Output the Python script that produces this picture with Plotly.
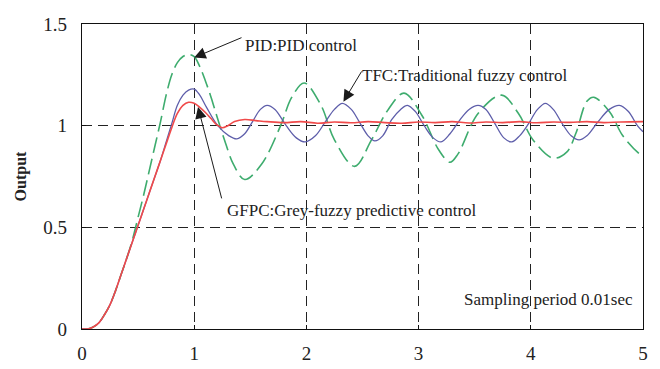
import plotly.graph_objects as go

# ---- data ----
gfpc_t = [0, 0.05, 0.1, 0.15, 0.2, 0.25, 0.3, 0.35, 0.4, 0.45, 0.5, 0.55, 0.6, 0.65, 0.7, 0.75,
          0.8, 0.85, 0.9, 0.95, 1.0, 1.05, 1.1, 1.15, 1.2, 1.25, 1.3, 1.36, 1.45, 1.55, 1.65,
          1.8, 1.95, 2.1, 2.25, 2.4, 2.55, 2.7, 2.85, 3.0, 3.15, 3.3, 3.45, 3.6, 3.75, 3.9,
          4.05, 4.2, 4.35, 4.5, 4.65, 4.8, 5.0]
gfpc_y = [0, 0.0, 0.01, 0.03, 0.07, 0.12, 0.19, 0.27, 0.35, 0.43, 0.51, 0.59, 0.67, 0.75, 0.83, 0.91,
          0.99, 1.06, 1.10, 1.115, 1.11, 1.09, 1.065, 1.035, 1.005, 0.99, 1.0, 1.02, 1.03, 1.025, 1.02,
          1.015, 1.02, 1.012, 1.018, 1.014, 1.02, 1.015, 1.012, 1.018, 1.015, 1.02, 1.013, 1.018, 1.015, 1.02,
          1.014, 1.018, 1.016, 1.02, 1.015, 1.018, 1.02]

tfc_t = [0, 0.05, 0.1, 0.15, 0.2, 0.25, 0.3, 0.35, 0.4, 0.45, 0.5, 0.55, 0.6, 0.65, 0.7, 0.75,
         0.8, 0.85, 0.9, 0.95, 1.0, 1.05, 1.11, 1.21, 1.31, 1.38, 1.45, 1.52, 1.59, 1.65, 1.72,
         1.82, 1.91, 1.99, 2.08, 2.17, 2.25, 2.32, 2.4, 2.47, 2.55, 2.61, 2.68, 2.76, 2.84, 2.9,
         2.97, 3.05, 3.13, 3.2, 3.28, 3.37, 3.45, 3.53, 3.6, 3.68, 3.76, 3.83, 3.9, 3.98, 4.06,
         4.13, 4.2, 4.28, 4.36, 4.43, 4.5, 4.6, 4.7, 4.79, 4.87, 4.95, 5.0]
tfc_y = [0, 0.0, 0.01, 0.03, 0.07, 0.12, 0.19, 0.27, 0.35, 0.43, 0.51, 0.59, 0.67, 0.75, 0.83, 0.92,
         1.01, 1.10, 1.15, 1.175, 1.18, 1.15, 1.09, 1.0, 0.95, 0.935, 0.96, 1.02, 1.08, 1.10, 1.08,
         1.0, 0.94, 0.92, 0.95, 1.02, 1.08, 1.11, 1.08, 1.02, 0.95, 0.925, 0.95, 1.03, 1.08, 1.10,
         1.07, 1.0, 0.94, 0.92, 0.96, 1.03, 1.08, 1.10, 1.08, 1.01, 0.94, 0.92, 0.95, 1.01, 1.08,
         1.11, 1.08, 1.01, 0.95, 0.93, 0.95, 1.02, 1.08, 1.10, 1.07, 1.0, 0.97]

pid_t = [0, 0.05, 0.1, 0.15, 0.2, 0.25, 0.3, 0.35, 0.4, 0.45, 0.5, 0.55, 0.6, 0.65, 0.7, 0.75,
         0.8, 0.85, 0.9, 0.95, 1.0, 1.05, 1.1, 1.15, 1.2, 1.27, 1.35, 1.45, 1.6, 1.77, 1.87,
         1.98, 2.13, 2.25, 2.43, 2.58, 2.73, 2.87, 3.03, 3.18, 3.28, 3.35, 3.53, 3.74, 3.89,
         4.02, 4.2, 4.32, 4.4, 4.5, 4.56, 4.7, 4.82, 4.97, 5.0]
pid_y = [0, 0.0, 0.01, 0.03, 0.07, 0.12, 0.19, 0.27, 0.35, 0.44, 0.55, 0.66, 0.78, 0.9, 1.02, 1.15,
         1.25, 1.31, 1.34, 1.35, 1.34, 1.29, 1.22, 1.14, 1.05, 0.93, 0.81, 0.735, 0.81, 1.0, 1.14,
         1.21, 1.1, 0.93, 0.80, 0.93, 1.08, 1.16, 1.05, 0.88, 0.82, 0.86, 1.06, 1.15, 1.06,
         0.93, 0.84, 0.87, 0.96, 1.12, 1.14, 1.07, 0.95, 0.86, 0.85]

x_ticks = [0, 1, 2, 3, 4, 5]
y_ticks = [0, 0.5, 1, 1.5]
y_tick_text = ["0", "0.5", "1", "1.5"]

FONT = "Liberation Serif"

fig = go.Figure()
fig.add_trace(go.Scatter(x=pid_t, y=pid_y, mode="lines", name="PID",
                         line=dict(color="#3eac6e", width=1.6, dash="16px,6px", shape="spline")))
fig.add_trace(go.Scatter(x=tfc_t, y=tfc_y, mode="lines", name="TFC",
                         line=dict(color="#5e5eaa", width=1.3, shape="spline")))
fig.add_trace(go.Scatter(x=gfpc_t, y=gfpc_y, mode="lines", name="GFPC",
                         line=dict(color="#f04a4a", width=1.6, shape="spline")))

arrows = [
    dict(x=1.0, y=1.335, ax=1.435, ay=1.436),
    dict(x=2.33, y=1.118, ax=2.50, ay=1.274),
    dict(x=1.034, y=1.092, ax=1.248, ay=0.635),
]
for a in arrows:
    fig.add_annotation(x=a["x"], y=a["y"], ax=a["ax"], ay=a["ay"], xref="x", yref="y",
                       axref="x", ayref="y", text="", showarrow=True, arrowhead=2,
                       arrowsize=2.3, arrowwidth=1, arrowcolor="#1a1a1a")

labels = [
    dict(text="PID:PID control", x=1.435, y=1.392, xanchor="left"),
    dict(text="TFC:Traditional fuzzy control", x=2.48, y=1.249, xanchor="left"),
    dict(text="GFPC:Grey-fuzzy predictive control", x=1.274, y=0.585, xanchor="left"),
    dict(text="Sampling period 0.01sec", x=4.93, y=0.143, xanchor="right"),
]
for l in labels:
    fig.add_annotation(x=l["x"], y=l["y"], xref="x", yref="y", text=l["text"],
                       xanchor=l["xanchor"], yanchor="middle", showarrow=False,
                       font=dict(family=FONT, size=17, color="#222"))

# the page body has an 8px default margin, so the figure is shrunk by 8px
fig.update_layout(
    width=652, height=361,
    margin=dict(l=74, r=17, t=16, b=40, autoexpand=False),
    paper_bgcolor="white", plot_bgcolor="white",
    showlegend=False,
    font=dict(family=FONT, size=17, color="#222"),
)
fig.update_xaxes(range=[0, 5], tickvals=x_ticks, ticktext=[str(v) for v in x_ticks],
                 showline=True, linecolor="#111", linewidth=1.2, mirror=True,
                 ticks="inside", ticklen=4, tickcolor="#111",
                 showgrid=True, gridcolor="#222", gridwidth=1, griddash="10px,6px",
                 zeroline=False, ticklabelstandoff=7,
                 tickfont=dict(family=FONT, size=19, color="#222"))
fig.update_yaxes(range=[0, 1.5], tickvals=y_ticks, ticktext=y_tick_text,
                 showline=True, linecolor="#111", linewidth=1.2, mirror=True,
                 ticks="inside", ticklen=4, tickcolor="#111",
                 showgrid=True, gridcolor="#222", gridwidth=1, griddash="10px,6px",
                 zeroline=False, ticklabelstandoff=10,
                 title=dict(text="<b>Output</b>", font=dict(family=FONT, size=16, color="#222"),
                            standoff=12),
                 tickfont=dict(family=FONT, size=19, color="#222"))

fig.write_html("out.html")
